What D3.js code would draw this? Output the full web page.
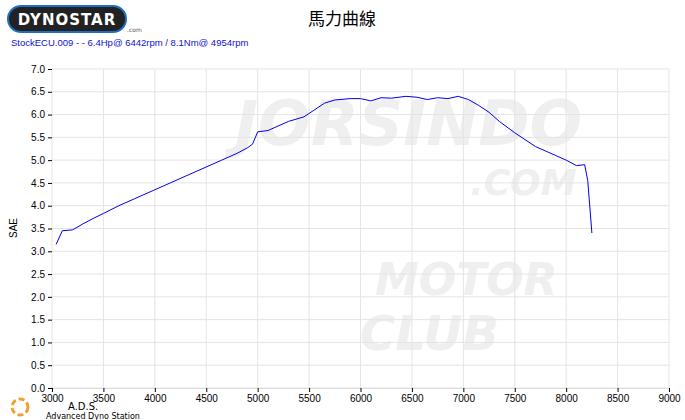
<!DOCTYPE html><html><head><meta charset="utf-8"><script src="https://cdn.jsdelivr.net/npm/d3@7"></script>
<style>body{margin:0;background:#fff}</style></head><body><svg id="c" width="685" height="420"></svg>
<script>
const rpm=[3040,3100,3200,3300,3400,3500,3650,3800,4000,4150,4300,4500,4650,4800,4900,4950,5000,5100,5200,5300,5450,5550,5650,5750,5900,6000,6100,6200,6300,6442,6550,6650,6750,6850,6950,7050,7150,7250,7350,7500,7600,7700,7800,7900,8000,8100,8180,8210,8250];
const hp=[3.15,3.45,3.47,3.6,3.72,3.83,4.0,4.15,4.35,4.5,4.65,4.85,5.0,5.15,5.27,5.35,5.62,5.65,5.75,5.85,5.95,6.1,6.25,6.32,6.35,6.35,6.3,6.37,6.36,6.4,6.38,6.33,6.37,6.35,6.4,6.33,6.2,6.05,5.85,5.6,5.45,5.3,5.2,5.1,5.0,4.88,4.9,4.55,3.4];
const xTicks=d3.range(3000,9001,500), yTicks=d3.range(0,7.01,0.5);
const svg=d3.select("#c");
const x=d3.scaleLinear().domain([3000,9000]).range([52,669]);
const y=d3.scaleLinear().domain([0,7]).range([388,69]);
const wm=svg.append("g").attr("fill","#efefef").attr("font-family","DejaVu Sans").attr("font-weight","bold").attr("font-style","italic");
wm.append("text").attr("x",235).attr("y",145).attr("font-size",62).text("JORSINDO");
wm.append("text").attr("x",470).attr("y",195).attr("font-size",36).text(".COM");
wm.append("text").attr("x",375).attr("y",295).attr("font-size",44).text("MOTOR");
wm.append("text").attr("x",360).attr("y",350).attr("font-size",48).text("CLUB");
const g=svg.append("g");
g.selectAll(".gx").data(xTicks).join("line").attr("x1",d=>x(d)).attr("x2",d=>x(d)).attr("y1",69).attr("y2",388).attr("stroke","#e4e4e4");
g.selectAll(".gy").data(yTicks).join("line").attr("x1",52).attr("x2",669).attr("y1",d=>y(d)).attr("y2",d=>y(d)).attr("stroke","#e4e4e4");
svg.append("g").attr("transform","translate(0,388)").call(d3.axisBottom(x).tickValues(xTicks).tickSize(4).tickFormat(d3.format("d"))).call(a=>a.select(".domain").attr("stroke","#ddd")).selectAll("text").attr("font-family","Liberation Sans").attr("font-size",10);
svg.append("g").attr("transform","translate(52,0)").call(d3.axisLeft(y).tickValues(yTicks).tickSize(4).tickFormat(d3.format(".1f"))).call(a=>a.select(".domain").remove()).selectAll("text").attr("font-family","Liberation Sans").attr("font-size",10);
svg.append("text").attr("transform","translate(17,228) rotate(-90)").attr("text-anchor","middle").attr("font-family","Liberation Sans").attr("font-size",10).text("SAE");
svg.append("path").datum(rpm.map((r,i)=>[r,hp[i]])).attr("fill","none").attr("stroke","#0000ee").attr("stroke-width",1).attr("d",d3.line().x(d=>x(d[0])).y(d=>y(d[1])));
svg.append("rect").attr("x",8).attr("y",6).attr("width",118).attr("height",26).attr("rx",13).attr("fill","#222").attr("stroke","#1e6fc0").attr("stroke-width",2);
svg.append("text").attr("x",67).attr("y",25).attr("text-anchor","middle").attr("fill","#fff").attr("font-family","DejaVu Sans").attr("font-weight","bold").attr("font-size",15).attr("letter-spacing",1).text("DYNOSTAR");
svg.append("text").attr("x",127).attr("y",32).attr("font-size",6).attr("fill","#555").attr("font-family","DejaVu Sans").text(".com");
svg.append("text").attr("x",342).attr("y",25).attr("text-anchor","middle").attr("font-family","Noto Sans CJK TC").attr("font-size",17).text("馬力曲線");
svg.append("text").attr("x",11).attr("y",46).attr("fill","#1010d0").attr("font-family","Liberation Sans").attr("font-size",9.5).text("StockECU.009 -  - 6.4Hp@ 6442rpm / 8.1Nm@ 4954rpm");
svg.append("circle").attr("cx",20).attr("cy",407).attr("r",8).attr("fill","none").attr("stroke","#f0a030").attr("stroke-width",3).attr("stroke-dasharray","6 3");
svg.append("text").attr("x",68).attr("y",410).attr("font-family","DejaVu Sans").attr("font-size",10).text("A.D.S.");
svg.append("text").attr("x",46).attr("y",419).attr("font-family","DejaVu Sans").attr("font-size",8).text("Advanced Dyno Station");
</script></body></html>
